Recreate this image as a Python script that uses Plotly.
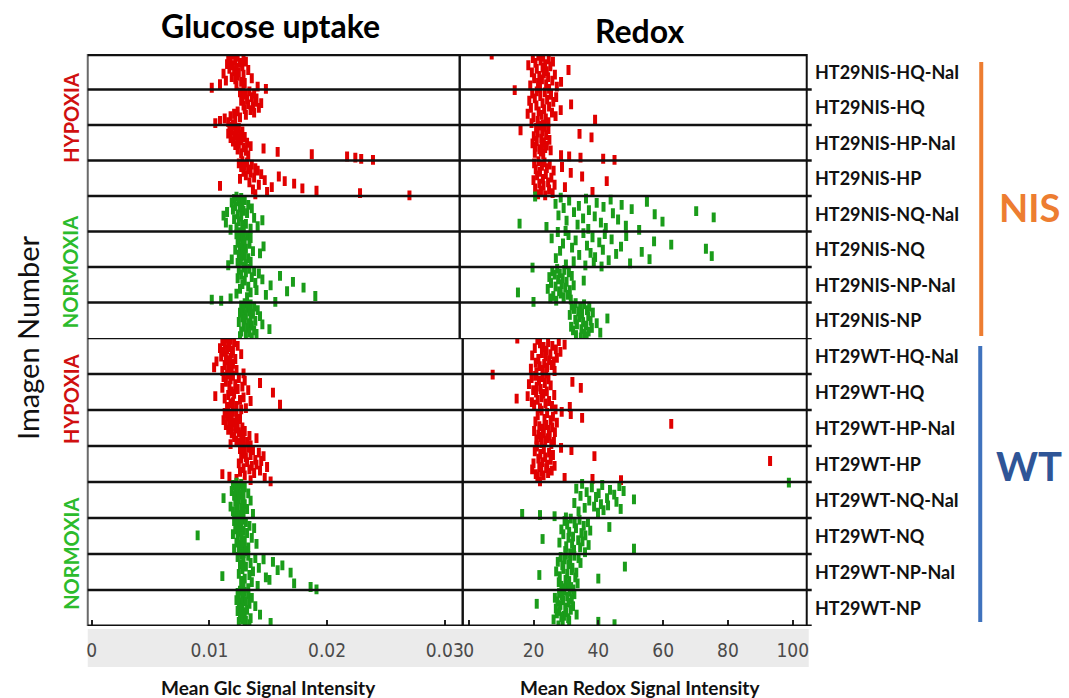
import plotly.graph_objects as go

W, H = 1069, 698

# ---------------------------------------------------------------- categories
labels_nis = ["HT29NIS-HQ-NaI", "HT29NIS-HQ", "HT29NIS-HP-NaI", "HT29NIS-HP",
              "HT29NIS-NQ-NaI", "HT29NIS-NQ", "HT29NIS-NP-NaI", "HT29NIS-NP"]
labels_wt = ["HT29WT-HQ-NaI", "HT29WT-HQ", "HT29WT-HP-NaI", "HT29WT-HP",
             "HT29WT-NQ-NaI", "HT29WT-NQ", "HT29WT-NP-NaI", "HT29WT-NP"]
# first four rows of each block are hypoxia, last four normoxia
row_condition = ["HYPOXIA"] * 4 + ["NORMOXIA"] * 4

# ---------------------------------------------------------------- series
# Mean glucose signal per image, in units of 1e-3 (image 1 first)
GLC_UNIT = 1e-3
glc_nis = [
    [12.0, 11.6, 12.4, 12.9, 11.8, 12.2, 13.1, 12.6, 11.5, 12.0, 12.8, 12.3, 11.7, 13.3, 12.1,
     12.5, 11.2, 12.9, 12.4, 11.9, 13.6, 12.2, 11.4, 12.7, 13.0, 10.9, 12.3, 14.1, 10.2, 14.8],
    [12.9, 13.4, 12.6, 13.8, 13.1, 12.8, 13.6, 14.0, 13.2, 12.7, 13.9, 14.4, 13.3, 12.9, 13.7,
     14.2, 13.0, 13.5, 12.4, 13.8, 12.1, 13.1, 11.8, 12.6, 11.3, 12.2, 10.9, 11.6, 10.5, 12.0],
    [12.0, 11.7, 12.5, 12.2, 11.9, 12.8, 12.3, 11.6, 12.6, 12.1, 13.0, 11.8, 12.4, 12.7, 12.0,
     13.2, 12.5, 12.2, 13.5, 12.9, 14.6, 12.4, 13.1, 15.8, 12.7, 18.7, 13.3, 21.7, 22.4, 22.9, 23.9],
    [12.8, 13.2, 12.5, 13.6, 13.0, 12.7, 13.9, 13.3, 14.1, 12.9, 13.5, 14.4, 13.1, 15.9, 13.8,
     12.6, 14.7, 16.4, 13.4, 17.2, 14.2, 10.9, 15.3, 17.9, 13.7, 19.1, 14.9, 22.8, 13.9, 27.0],
    [12.3, 12.7, 12.1, 13.0, 12.5, 11.9, 12.8, 13.3, 12.2, 12.6, 13.6, 12.0, 12.9, 11.5, 13.2,
     12.4, 11.2, 12.7, 13.8, 12.1, 14.5, 12.5, 11.4, 13.1, 12.8, 14.1, 12.3, 13.5, 11.8, 12.9],
    [12.6, 12.9, 12.3, 13.2, 12.7, 13.5, 12.5, 12.8, 13.0, 12.4, 13.4, 12.9, 14.6, 12.6, 13.1,
     12.2, 13.7, 12.8, 14.3, 12.5, 13.0, 12.7, 13.3, 11.9, 12.6, 13.5, 12.4, 13.1, 11.6, 12.9],
    [12.9, 13.4, 12.5, 13.8, 13.1, 14.2, 12.7, 16.0, 13.6, 12.4, 14.5, 13.0, 17.1, 13.9, 12.8,
     15.2, 13.3, 18.0, 12.6, 14.0, 16.6, 13.5, 12.3, 14.8, 19.0, 13.2, 11.8, 10.2, 11.0, 15.6],
    [13.0, 13.5, 12.7, 13.8, 13.2, 12.9, 14.1, 13.4, 12.6, 13.7, 13.1, 14.3, 12.8, 13.5, 13.0,
     13.9, 12.5, 13.3, 14.5, 13.6, 12.9, 13.2, 15.1, 13.8, 12.7, 13.4, 14.0, 13.1, 12.6, 13.6],
]
glc_wt = [
    [11.4, 11.8, 11.1, 12.1, 11.6, 11.3, 12.4, 11.7, 10.9, 11.5, 12.0, 11.2, 11.9, 12.7, 11.4,
     11.0, 11.8, 12.2, 11.5, 10.6, 11.7, 12.0, 11.3, 11.9, 10.4, 11.6, 12.3, 11.1, 11.8, 12.9],
    [11.5, 12.0, 11.2, 12.5, 11.8, 13.0, 11.4, 14.3, 12.2, 11.7, 12.8, 11.1, 12.4, 13.3, 11.9,
     15.4, 12.1, 11.6, 10.5, 12.9, 11.3, 12.6, 13.5, 12.0, 11.8, 16.0, 12.3, 11.5, 13.1, 12.7],
    [11.6, 12.0, 11.3, 11.8, 12.3, 11.5, 11.9, 12.6, 11.2, 11.7, 12.1, 12.4, 11.4, 11.9, 12.8,
     12.2, 11.6, 13.0, 12.5, 11.9, 12.7, 13.4, 12.1, 14.0, 12.9, 12.3, 13.2, 12.6, 11.8, 13.5],
    [12.9, 13.3, 12.6, 13.7, 13.0, 14.2, 12.8, 13.5, 14.6, 13.1, 12.7, 13.9, 14.4, 13.2, 12.5,
     14.0, 13.6, 14.9, 12.9, 13.4, 14.3, 12.6, 13.8, 11.1, 13.0, 11.7, 14.7, 12.3, 13.5, 15.2],
    [12.3, 12.7, 12.0, 12.5, 13.0, 12.2, 12.8, 11.9, 12.4, 13.3, 12.6, 12.1, 12.9, 11.2, 12.5,
     13.5, 12.2, 12.8, 13.0, 12.4, 11.8, 12.7, 13.2, 12.3, 12.0, 12.9, 13.7, 12.6, 12.2, 12.8],
    [12.4, 12.8, 12.1, 13.1, 12.6, 12.3, 13.4, 12.7, 13.8, 12.2, 12.9, 12.5, 13.2, 12.0, 9.0,
     12.7, 13.6, 12.4, 12.9, 13.0, 12.3, 14.0, 12.6, 12.8, 13.3, 12.1, 12.5, 13.1, 12.7, 12.9],
    [12.7, 13.3, 12.4, 13.9, 14.6, 12.9, 15.4, 13.5, 12.6, 16.2, 13.1, 14.2, 12.8, 15.8, 13.7,
     16.9, 12.5, 13.4, 11.1, 14.8, 13.0, 15.1, 12.7, 13.6, 17.2, 12.9, 14.1, 18.6, 13.3, 19.1],
    [12.6, 13.0, 12.4, 13.3, 12.8, 12.5, 13.6, 12.9, 12.3, 13.1, 12.7, 13.4, 12.5, 13.9, 12.8,
     12.6, 13.2, 12.4, 13.0, 12.7, 14.3, 12.9, 12.6, 13.5, 12.8, 13.1, 12.5, 15.2, 13.4, 13.0],
]

# Mean redox signal per image (image 1 first)
redox_nis = [
    [7.1, 21.5, 23.0, 19.8, 24.7, 22.2, 26.0, 20.6, 23.6, 18.4, 25.2, 22.8, 21.0, 30.8, 24.1,
     19.5, 23.2, 26.6, 21.8, 24.5, 20.2, 22.6, 25.8, 28.5, 21.4, 23.9, 19.0, 27.2, 22.0, 24.8],
    [14.2, 21.0, 23.5, 19.6, 25.4, 22.1, 27.0, 20.4, 24.2, 18.7, 26.1, 22.8, 31.6, 20.9, 24.8,
     19.2, 23.3, 28.4, 21.6, 25.7, 18.2, 22.5, 26.8, 20.0, 23.8, 39.0, 21.3, 24.6, 19.4, 22.9],
    [22.0, 23.5, 20.8, 24.6, 16.0, 22.7, 21.3, 34.2, 23.9, 20.1, 37.9, 22.4, 24.9, 21.0, 23.2,
     19.7, 22.6, 24.1, 20.6, 23.6, 21.8, 25.3, 22.3, 20.4, 23.0, 28.5, 31.0, 34.5, 41.5, 45.0],
    [21.5, 23.4, 20.2, 25.0, 22.6, 28.8, 24.1, 20.7, 26.2, 22.0, 31.5, 23.8, 21.1, 35.0, 25.5,
     22.9, 20.0, 42.6, 24.5, 21.8, 26.5, 23.1, 29.7, 20.5, 24.8, 22.3, 38.2, 25.9, 21.4, 23.6],
    [20.5, 28.4, 36.2, 43.8, 31.0, 55.0, 39.5, 26.8, 47.2, 34.0, 41.6, 29.3, 50.3, 37.1, 70.2,
     32.5, 44.5, 57.4, 27.7, 38.9, 75.6, 35.3, 46.1, 30.2, 59.8, 40.8, 15.7, 33.6, 48.5, 24.0,
     42.3, 36.9, 52.6, 29.9],
    [27.5, 35.4, 42.0, 30.8, 48.6, 38.2, 25.6, 44.1, 33.0, 57.2, 40.3, 29.1, 62.5, 36.5, 47.0,
     31.9, 73.2, 41.4, 28.2, 53.4, 37.6, 45.5, 34.1, 75.0, 39.0, 26.9, 55.8, 43.2, 32.4, 38.6,
     49.8, 30.0, 36.0, 41.0],
    [19.7, 27.3, 29.5, 25.8, 30.9, 28.1, 26.5, 31.8, 24.9, 29.0, 27.6, 35.5, 30.2, 25.4, 28.7,
     32.4, 26.8, 29.8, 24.4, 31.2, 27.9, 15.2, 28.4, 30.6, 26.1, 29.3, 25.2, 31.5, 27.0, 20.0],
    [33.0, 35.6, 31.8, 37.2, 34.4, 32.5, 36.5, 33.8, 38.3, 35.0, 31.2, 36.9, 34.1, 42.8, 32.9,
     37.6, 35.3, 39.5, 33.4, 36.2, 31.6, 38.0, 34.8, 32.2, 37.0, 40.6, 35.7, 33.1, 36.4, 34.6],
]
redox_wt = [
    [15.0, 21.2, 27.8, 24.5, 22.0, 29.6, 25.8, 23.1, 20.4, 26.9, 24.0, 28.3, 22.6, 25.2, 19.6,
     23.7, 27.2, 21.5, 24.8, 26.2, 20.7, 23.3, 25.6, 21.9, 24.2, 19.2, 22.8, 26.5, 20.9, 23.9],
    [7.4, 20.5, 22.8, 19.4, 24.6, 21.7, 32.0, 23.5, 18.6, 25.3, 21.0, 34.6, 22.2, 19.9, 24.1,
     20.8, 23.0, 26.4, 18.2, 22.5, 14.8, 21.3, 24.8, 19.5, 23.7, 20.2, 25.7, 31.2, 22.0, 26.8],
    [22.5, 28.7, 24.2, 31.5, 21.3, 26.0, 35.0, 23.4, 25.3, 20.6, 27.2, 62.5, 23.9, 21.8, 25.8,
     22.9, 24.7, 20.2, 26.6, 23.2, 21.5, 25.0, 22.1, 24.4, 20.9, 23.6, 26.3, 22.4, 25.5, 21.0],
    [21.0, 28.5, 23.2, 31.7, 20.4, 24.8, 22.1, 26.0, 38.8, 23.6, 21.5, 25.3, 93.0, 22.7, 20.0,
     24.2, 26.5, 21.8, 23.9, 19.6, 25.6, 22.4, 24.5, 20.7, 23.1, 21.2, 29.6, 38.2, 47.0, 22.0],
    [98.8, 35.0, 41.2, 46.5, 38.0, 33.2, 43.6, 47.8, 36.4, 40.1, 44.9, 34.5, 39.3, 42.7, 51.0,
     37.2, 45.6, 32.6, 40.8, 43.0, 38.7, 35.8, 46.9, 41.6, 33.9, 39.9, 16.5, 22.0, 26.5, 30.0],
    [31.5, 34.2, 29.6, 36.8, 32.7, 30.4, 35.5, 43.4, 33.1, 28.6, 37.5, 31.0, 34.8, 29.2, 36.0,
     32.2, 30.8, 22.8, 33.8, 35.1, 28.0, 31.9, 37.0, 30.1, 34.4, 51.0, 32.5, 29.8, 35.9, 31.3],
    [30.0, 32.6, 28.4, 33.9, 29.6, 31.3, 27.5, 34.5, 30.8, 28.9, 48.2, 32.0, 29.2, 31.8, 27.0,
     33.2, 30.4, 21.8, 28.1, 32.9, 40.0, 29.9, 31.0, 27.8, 33.6, 30.6, 28.6, 31.6, 29.4, 32.3],
    [29.5, 31.2, 27.9, 32.6, 28.8, 30.4, 26.6, 31.8, 29.1, 27.4, 30.9, 21.0, 28.3, 32.2, 29.8,
     26.9, 31.5, 28.0, 30.1, 27.2, 33.3, 29.4, 28.6, 30.7, 26.2, 31.0, 40.0, 29.0, 45.0, 27.7],
]

# ---------------------------------------------------------------- tick labels
glc_tickvals = [0, 0.01, 0.02, 0.03]
glc_ticktext = ["0", "0.01", "0.02", "0.03"]
redox_tickvals = [0, 20, 40, 60, 80, 100]
redox_ticktext = ["0", "20", "40", "60", "80", "100"]

# ---------------------------------------------------------------- styling
RED = "#e00000"
GREEN = "#1a9c1a"
COND_COLOR = {"HYPOXIA": RED, "NORMOXIA": GREEN}
COND_TEXT = {"HYPOXIA": "#d01010", "NORMOXIA": "#2cbb2c"}
ORANGE = "#ed7d31"
BLUE_LINE = "#3f72bd"
BLUE_TEXT = "#2f5597"
FONT = "Lato"
NARROW = "DejaVu Sans Condensed, Liberation Sans Narrow, DejaVu Sans, sans-serif"


def px(x):
    return x / W


def py(y):
    return 1 - y / H


# pixel geometry of the four panels
NIS_TOP, MID, WT_BOT = 54, 338, 626
GLC_ZERO, GLC_PX = 91, 11800.0      # px of 0, px per unit
RDX_ZERO, RDX_PX = 469, 3.25


def glc_range(x0, x1):
    return [(x0 - GLC_ZERO) / GLC_PX, (x1 - GLC_ZERO) / GLC_PX]


def rdx_range(x0, x1):
    return [(x0 - RDX_ZERO) / RDX_PX, (x1 - RDX_ZERO) / RDX_PX]


panels = [
    # (xaxis id, yaxis id, px left, px right, data, scale, bottom?)
    ("x", "y", 87, 460, glc_nis, GLC_UNIT, False),
    ("x2", "y2", 87, 463, glc_wt, GLC_UNIT, True),
    ("x3", "y", 460, 808, redox_nis, 1.0, False),
    ("x4", "y2", 463, 808, redox_wt, 1.0, True),
]

fig = go.Figure()

for xa, ya, l, r, rows, scale, bottom in panels:
    for cond in ("HYPOXIA", "NORMOXIA"):
        xs, ys = [], []
        for ri, vals in enumerate(rows):
            if row_condition[ri] != cond:
                continue
            n = len(vals)
            for i, v in enumerate(vals):
                xs.append(v * scale)
                ys.append(ri + (i + 0.5) / n)
        c = COND_COLOR[cond]
        fig.add_trace(go.Scatter(
            x=xs, y=ys, xaxis=xa, yaxis=ya, mode="markers",
            marker=dict(symbol="line-ns", size=7, color=c,
                        line=dict(width=4, color=c)),
            showlegend=False, hoverinfo="x",
        ))

axis_common = dict(showgrid=False, zeroline=False, showline=False)
layout = dict(
    width=W, height=H, margin=dict(l=0, r=0, t=0, b=0),
    paper_bgcolor="white", plot_bgcolor="white", showlegend=False,
    font=dict(family=FONT, color="#111111"),
    yaxis=dict(domain=[py(MID), py(NIS_TOP)], range=[8, 0], anchor="x",
               showticklabels=False, ticks="", **axis_common),
    yaxis2=dict(domain=[py(WT_BOT), py(MID)], range=[8, 0], anchor="x2",
                showticklabels=False, ticks="", **axis_common),
)
tick_font = dict(family=NARROW, size=19, color="#4a4a4a")
for xa, ya, l, r, rows, scale, bottom in panels:
    key = "xaxis" if xa == "x" else "xaxis" + xa[1:]
    is_glc = scale != 1.0
    rng = glc_range(l, r) if is_glc else rdx_range(l, r)
    ax = dict(domain=[px(l), px(r)], range=rng, anchor=ya, **axis_common)
    if bottom:
        ax.update(
            tickmode="array",
            tickvals=glc_tickvals if is_glc else redox_tickvals,
            ticktext=glc_ticktext if is_glc else redox_ticktext,
            ticks="inside", ticklen=6, tickwidth=1.5, tickcolor="#222",
            tickfont=tick_font, ticklabelstandoff=11,
        )
    else:
        ax.update(showticklabels=False, ticks="")
    layout[key] = ax
fig.update_layout(**layout)

shapes = []
# grey band behind the intensity tick labels
shapes.append(dict(type="rect", xref="paper", yref="paper", layer="below",
                   x0=px(87), x1=px(810), y0=py(667), y1=py(629),
                   fillcolor="#ebebeb", line=dict(width=0)))
for xa, ya, l, r, rows, scale, bottom in panels:
    xd, yd = xa + " domain", ya + " domain"
    is_glc = scale != 1.0
    # panel frame
    left_col = "#6a6a6a" if is_glc else "#111111"
    shapes.append(dict(type="line", xref=xd, yref=yd, x0=0, x1=0, y0=0, y1=1,
                       line=dict(color=left_col, width=2)))
    shapes.append(dict(type="line", xref=xd, yref=yd, x0=1, x1=1, y0=0, y1=1,
                       line=dict(color="#111111", width=2)))
    # row separators
    ext = 1.0 if is_glc else (r + 5 - l) / (r - l)
    for k in range(1, 8):
        shapes.append(dict(type="line", xref=xd, yref=ya, x0=0, x1=ext, y0=k, y1=k,
                           line=dict(color="#111111", width=2.6)))
    if bottom:
        shapes.append(dict(type="line", xref=xd, yref=ya, x0=0, x1=ext, y0=8, y1=8,
                           line=dict(color="#111111", width=3)))
        shapes.append(dict(type="line", xref=xd, yref=ya, x0=0, x1=ext, y0=0, y1=0,
                           line=dict(color="#111111", width=2.6)))
    else:
        shapes.append(dict(type="line", xref=xd, yref=ya, x0=0, x1=1, y0=0, y1=0,
                           line=dict(color="#111111", width=4.5)))

# group brackets
shapes.append(dict(type="line", xref="paper", yref="paper", x0=px(983), x1=px(983),
                   y0=py(336), y1=py(62), line=dict(color=ORANGE, width=4)))
shapes.append(dict(type="line", xref="paper", yref="paper", x0=px(982), x1=px(982),
                   y0=py(622), y1=py(346), line=dict(color=BLUE_LINE, width=4)))
fig.update_layout(shapes=shapes)


def note(text, x, y, yref="paper", **kw):
    d = dict(text=text, x=x, y=y, xref="paper", yref=yref, showarrow=False,
             xanchor="center", yanchor="middle")
    d.update(kw)
    return d


ann = [
    note("<b>Glucose uptake</b>", px(270), py(25), font=dict(size=32, color="#000")),
    note("<b>Redox</b>", px(640), py(30), font=dict(size=32, color="#000")),
    note("Imagen Number", px(27), py(338), textangle=-90,
         font=dict(size=29, color="#111")),
    note("<b>Mean Glc Signal Intensity</b>", px(268), py(687),
         font=dict(size=19, color="#111")),
    note("<b>Mean Redox Signal Intensity</b>", px(641), py(687),
         font=dict(size=19, color="#111")),
]
# side labels: row position of each oxygen-condition caption within its block
cond_pos = {"y": {"HYPOXIA": 1.8, "NORMOXIA": 6.15},
            "y2": {"HYPOXIA": 1.7, "NORMOXIA": 6.0}}
for ya, labels in (("y", labels_nis), ("y2", labels_wt)):
    for ri, lab in enumerate(labels):
        ann.append(note(f"<b>{lab}</b>", px(814), ri + 0.5, yref=ya, xanchor="left",
                        font=dict(size=18, color="#111")))
    for cond, yc in cond_pos[ya].items():
        ann.append(note(f"<b>{cond}</b>", px(70), yc, yref=ya, textangle=-90,
                        font=dict(size=20, color=COND_TEXT[cond])))
ann.append(note("<b>NIS</b>", px(1031), py(207), font=dict(size=38, color=ORANGE)))
ann.append(note("<b>WT</b>", px(1031), py(466), font=dict(size=40, color=BLUE_TEXT)))
fig.update_layout(annotations=ann)

fig.write_html("out.html")
